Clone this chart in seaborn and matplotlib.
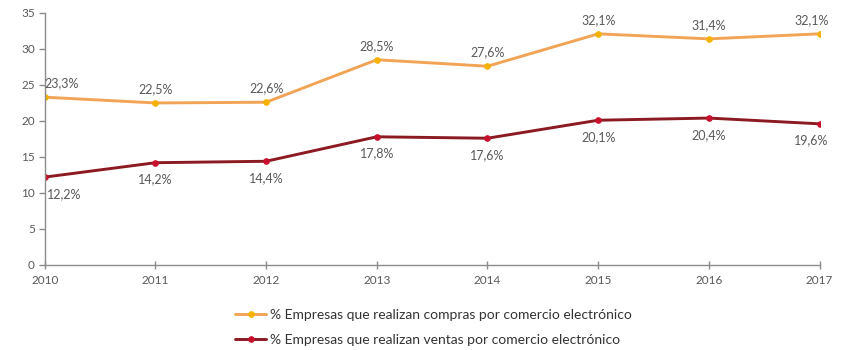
import matplotlib
matplotlib.use("Agg")
import matplotlib.pyplot as plt
import seaborn as sns
import pandas as pd

years = [2010, 2011, 2012, 2013, 2014, 2015, 2016, 2017]
compras = [23.3, 22.5, 22.6, 28.5, 27.6, 32.1, 31.4, 32.1]
ventas = [12.2, 14.2, 14.4, 17.8, 17.6, 20.1, 20.4, 19.6]
label_compras = "% Empresas que realizan compras por comercio electrónico"
label_ventas = "% Empresas que realizan ventas por comercio electrónico"
yticks = [0, 5, 10, 15, 20, 25, 30, 35]

sns.set_theme(style="white")
plt.rcParams["font.family"] = ["Lato", "DejaVu Sans"]

df = pd.DataFrame({"year": years, "compras": compras, "ventas": ventas})

fig = plt.figure(figsize=(8.6, 3.5), dpi=100)
ax = fig.add_axes([0.052, 0.243, 0.901, 0.72])

grey = "#595959"
axis_grey = "#8c8c8c"

sns.lineplot(data=df, x="year", y="compras", ax=ax, color="#F2A456", lw=2.1,
             marker="o", markersize=4, markerfacecolor="#F5B300",
             markeredgecolor="#F5B300", label=label_compras)
sns.lineplot(data=df, x="year", y="ventas", ax=ax, color="#8B1A22", lw=2.1,
             marker="o", markersize=4, markerfacecolor="#C8102E",
             markeredgecolor="#C8102E", label=label_ventas)

def fmt(v):
    return f"{v:.1f}".replace(".", ",") + "%"

n = len(years)
for i, (x, v) in enumerate(zip(years, compras)):
    dx = 12 if i == 0 else (-6 if i == n - 1 else 0)
    ax.annotate(fmt(v), (x, v), xytext=(dx, 10), textcoords="offset points",
                ha="center", va="center", fontsize=9, color=grey)
for i, (x, v) in enumerate(zip(years, ventas)):
    dx = 14 if i == 0 else (-6 if i == n - 1 else 0)
    ax.annotate(fmt(v), (x, v), xytext=(dx, -12), textcoords="offset points",
                ha="center", va="center", fontsize=9, color=grey)

ax.set_xlim(years[0], years[-1])
ax.set_ylim(0, 35)
ax.set_yticks(yticks)
ax.set_xticks(years)
ax.set_xlabel("")
ax.set_ylabel("")

for side in ["top", "right"]:
    ax.spines[side].set_visible(False)
for side in ["left", "bottom"]:
    ax.spines[side].set_color(axis_grey)
    ax.spines[side].set_linewidth(1.0)

ax.tick_params(axis="y", which="both", direction="out", length=4, width=1,
               color=axis_grey, labelcolor=grey, labelsize=8.5, pad=3, left=True)
ax.tick_params(axis="x", which="both", direction="inout", length=6, width=1,
               color=axis_grey, labelcolor=grey, labelsize=8.5, pad=4, bottom=True)

leg = ax.legend(loc="upper left", bbox_to_anchor=(0.23, -0.125), frameon=False,
                fontsize=10, handlelength=2.2, handletextpad=0.3, labelspacing=0.95)
for t in leg.get_texts():
    t.set_color("#333333")

fig.savefig("out.png", dpi=100)
